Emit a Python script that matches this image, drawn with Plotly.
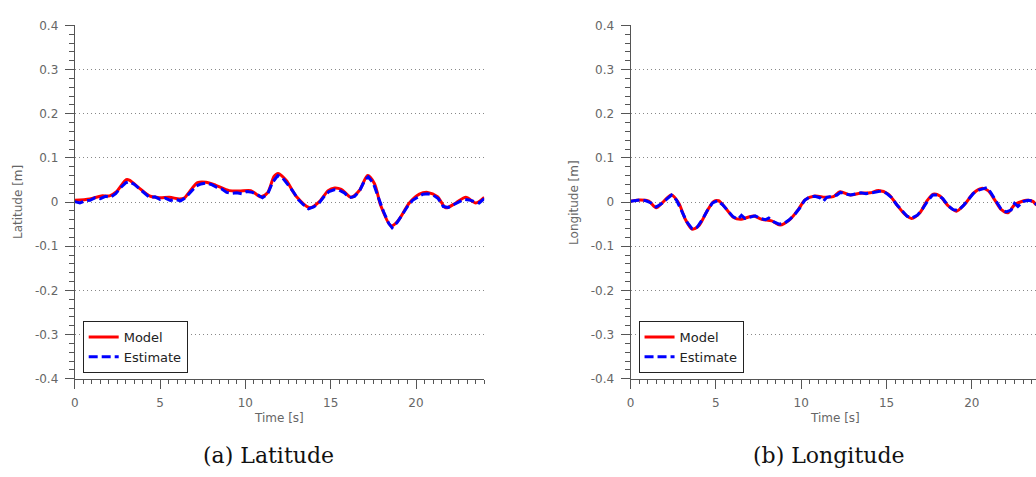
import plotly.graph_objects as go

# ---- Latitude: model vs. estimate ----
lat_model_t = [0.0, 0.88, 1.56, 2.04, 2.43, 3.02, 3.2, 3.8, 4.38, 4.96, 5.55, 6.13, 6.42, 6.72,
               7.2, 7.69, 8.27, 9.05, 9.64, 10.32, 10.9, 11.3, 11.68, 11.92, 12.4, 12.99, 13.77,
               14.35, 14.85, 15.23, 15.62, 16.2, 16.69, 17.17, 17.56, 17.95, 18.54, 18.93, 19.61,
               20.2, 20.68, 21.26, 21.75, 22.33, 22.92, 23.5, 24.0]
lat_model_v = [0.004, 0.007, 0.014, 0.014, 0.023, 0.051, 0.050, 0.031, 0.014, 0.010, 0.011, 0.007,
               0.009, 0.023, 0.044, 0.045, 0.038, 0.026, 0.025, 0.026, 0.012, 0.021, 0.058, 0.065,
               0.049, 0.0125, -0.013, 0.0015, 0.026, 0.032, 0.029, 0.011, 0.027, 0.060, 0.042,
               -0.0095, -0.054, -0.043, -0.002, 0.018, 0.022, 0.0125, -0.013, -0.002, 0.011,
               -0.002, 0.011]

lat_est_t = [0.0, 0.3, 0.6, 0.9, 1.2, 1.5, 1.8, 2.1, 2.4, 2.7, 3.0, 3.2, 3.5, 3.8, 4.1, 4.4, 4.7,
             5.0, 5.3, 5.6, 5.9, 6.2, 6.5, 6.8, 7.1, 7.4, 7.7, 8.0, 8.3, 8.6, 8.9, 9.2, 9.5, 9.8,
             10.1, 10.4, 10.7, 11.0, 11.3, 11.6, 11.9, 12.2, 12.5, 12.8, 13.1, 13.4, 13.7, 14.0,
             14.3, 14.6, 14.9, 15.2, 15.5, 15.8, 16.1, 16.4, 16.7, 17.0, 17.2, 17.5, 17.8, 18.1,
             18.4, 18.6, 18.9, 19.2, 19.5, 19.8, 20.1, 20.4, 20.7, 21.0, 21.3, 21.6, 21.9, 22.2,
             22.5, 22.8, 23.1, 23.4, 23.7, 24.0]
lat_est_v = [0.001, -0.002, 0.003, 0.004, 0.010, 0.008, 0.013, 0.011, 0.019, 0.033, 0.044, 0.046,
             0.040, 0.030, 0.019, 0.010, 0.012, 0.006, 0.009, 0.004, 0.006, 0.003, 0.010, 0.024,
             0.036, 0.041, 0.043, 0.040, 0.034, 0.030, 0.022, 0.020, 0.021, 0.019, 0.024, 0.022,
             0.017, 0.010, 0.018, 0.045, 0.060, 0.054, 0.040, 0.024, 0.006, -0.006, -0.015,
             -0.011, -0.003, 0.012, 0.024, 0.028, 0.027, 0.021, 0.010, 0.013, 0.026, 0.050, 0.057,
             0.043, 0.010, -0.022, -0.048, -0.058, -0.046, -0.028, -0.010, 0.004, 0.012, 0.018,
             0.019, 0.016, 0.008, -0.010, -0.012, -0.006, 0.000, 0.006, 0.005, 0.002, -0.002, 0.008]

# ---- Longitude: model vs. estimate ----
lon_model_t = [0.0, 0.58, 1.07, 1.5, 1.85, 2.39, 2.82, 3.21, 3.6, 3.99, 4.48, 4.87, 5.16, 5.55,
               6.04, 6.43, 7.2, 7.69, 8.27, 8.76, 9.35, 9.83, 10.22, 10.8, 11.39, 11.88, 12.28,
               12.87, 13.45, 14.04, 14.53, 15.11, 15.6, 16.08, 16.47, 16.96, 17.35, 17.74, 18.13,
               18.6, 19.1, 19.6, 20.08, 20.56, 20.95, 21.34, 21.73, 22.12, 22.51, 23.19, 23.58,
               23.78, 24.0]
lon_model_v = [0.002, 0.0045, 0.002, -0.013, -0.002, 0.016, -0.002, -0.039, -0.061, -0.054,
               -0.0205, 0.0015, 0.003, -0.013, -0.035, -0.039, -0.0315, -0.039, -0.0425, -0.052,
               -0.039, -0.017, 0.005, 0.014, 0.011, 0.0125, 0.0235, 0.016, 0.020, 0.021, 0.026,
               0.018, -0.006, -0.028, -0.037, -0.024, 0.0015, 0.018, 0.014, -0.008, -0.0205,
               -0.004, 0.020, 0.031, 0.026, 0.005, -0.017, -0.024, -0.006, 0.004, 0.0015, -0.006,
               -0.008]

lon_est_t = [0.0, 0.3, 0.6, 0.9, 1.2, 1.5, 1.8, 2.1, 2.4, 2.7, 3.0, 3.3, 3.6, 3.9, 4.2, 4.5, 4.8,
             5.1, 5.4, 5.7, 6.0, 6.3, 6.5, 6.7, 7.0, 7.3, 7.6, 7.9, 8.1, 8.4, 8.7, 9.0, 9.3, 9.6,
             9.9, 10.2, 10.5, 10.8, 11.1, 11.3, 11.5, 11.8, 12.1, 12.3, 12.6, 12.9, 13.2, 13.5,
             13.8, 14.1, 14.4, 14.7, 15.0, 15.3, 15.6, 15.9, 16.2, 16.5, 16.8, 17.1, 17.4, 17.7,
             18.0, 18.3, 18.6, 18.9, 19.2, 19.5, 19.8, 20.1, 20.4, 20.7, 20.9, 21.1, 21.4, 21.7,
             22.0, 22.3, 22.5, 22.7, 23.0, 23.3, 23.6, 23.8]
lon_est_v = [0.002, 0.003, 0.005, 0.003, -0.002, -0.011, -0.004, 0.006, 0.016, 0.004, -0.022,
             -0.045, -0.060, -0.057, -0.040, -0.019, -0.002, 0.003, -0.006, -0.020, -0.033,
             -0.039, -0.030, -0.037, -0.034, -0.031, -0.037, -0.040, -0.036, -0.045, -0.050,
             -0.048, -0.040, -0.029, -0.014, 0.004, 0.012, 0.013, 0.010, 0.002, 0.011, 0.013,
             0.016, 0.022, 0.018, 0.016, 0.018, 0.021, 0.019, 0.021, 0.024, 0.025, 0.020, 0.010,
             -0.006, -0.020, -0.032, -0.036, -0.030, -0.016, 0.002, 0.016, 0.016, 0.008, -0.008,
             -0.017, -0.019, -0.008, 0.007, 0.020, 0.027, 0.030, 0.033, 0.022, 0.003, -0.015,
             -0.022, -0.018, -0.003, -0.010, 0.001, 0.004, 0.002, -0.006]

y_tick_vals = [-0.4, -0.3, -0.2, -0.1, 0, 0.1, 0.2, 0.3, 0.4]
y_tick_text = ["-0.4", "-0.3", "-0.2", "-0.1", "0", "0.1", "0.2", "0.3", "0.4"]

panels = [
    dict(title="Latitude [m]", caption="(a) Latitude", mt=lat_model_t, mv=lat_model_v,
         et=lat_est_t, ev=lat_est_v),
    dict(title="Longitude [m]", caption="(b) Longitude", mt=lon_model_t, mv=lon_model_v,
         et=lon_est_t, ev=lon_est_v),
]

W, H = 1036, 477
PX_PER_S = 17.13
x_left = [71, 629]            # y-axis positions (px)
y_top, y_bot = 19, 383        # pixel rows for +0.4 and -0.4

TICK_FONT = dict(family="DejaVu Sans", size=12, color="#666666")
AXIS_COLOR = "#555555"

fig = go.Figure()
for i, p in enumerate(panels):
    xa = "x" if i == 0 else "x2"
    ya = "y" if i == 0 else "y2"
    leg = "legend" if i == 0 else "legend2"
    fig.add_trace(go.Scatter(x=p["mt"], y=p["mv"], xaxis=xa, yaxis=ya, mode="lines",
                             name="Model", legend=leg,
                             line=dict(color="#ff0000", width=3, shape="spline", smoothing=0.8)))
    fig.add_trace(go.Scatter(x=p["et"], y=p["ev"], xaxis=xa, yaxis=ya, mode="lines",
                             name="Estimate", legend=leg,
                             line=dict(color="#0000ff", width=3, dash="9px,4px")))

layout = dict(
    width=W, height=H, margin=dict(l=0, r=0, t=0, b=0),
    paper_bgcolor="white", plot_bgcolor="white", showlegend=True,
)

for i in range(2):
    x0 = x_left[i]
    x1 = min(x0 + 24.0 * PX_PER_S, W)
    xr = (x1 - x0) / PX_PER_S
    xkey = "xaxis" if i == 0 else "xaxis2"
    ykey = "yaxis" if i == 0 else "yaxis2"
    layout[xkey] = dict(
        domain=[x0 / W, x1 / W], range=[0, xr], anchor="y" if i == 0 else "y2",
        showgrid=False, zeroline=False, showline=True, linecolor=AXIS_COLOR, linewidth=1,
        ticks="outside", ticklen=9, tickcolor=AXIS_COLOR, tickwidth=1,
        tick0=0, dtick=5, tickfont=TICK_FONT, ticklabelstandoff=4,
        minor=dict(dtick=0.5, tick0=0, ticks="outside", ticklen=4, tickcolor=AXIS_COLOR,
                   showgrid=False),
    )
    layout[ykey] = dict(
        domain=[(H - y_bot) / H, (H - y_top) / H], range=[-0.4, 0.4],
        anchor="x" if i == 0 else "x2",
        showgrid=True, gridcolor="#888888", griddash="1px,3px", gridwidth=1,
        zeroline=False, showline=True, linecolor=AXIS_COLOR, linewidth=1,
        ticks="outside", ticklen=9, tickcolor=AXIS_COLOR, tickwidth=1,
        tickvals=y_tick_vals, ticktext=y_tick_text, tickfont=TICK_FONT, ticklabelstandoff=4,
        minor=dict(dtick=0.02, tick0=0, ticks="outside", ticklen=5, tickcolor=AXIS_COLOR,
                   showgrid=False),
    )
    lkey = "legend" if i == 0 else "legend2"
    layout[lkey] = dict(
        x=(x0 + 8) / W, y=(H - 377) / H, xanchor="left", yanchor="bottom",
        bgcolor="white", bordercolor="#222222", borderwidth=1,
        font=dict(family="DejaVu Sans", size=13, color="#222222"),
        itemwidth=30, tracegroupgap=0,
    )

fig.update_layout(**layout)

annotations = []
captions_x = [266, 828]
for i, p in enumerate(panels):
    x0 = x_left[i]
    # y-axis title
    annotations.append(dict(text=p["title"], x=(x0 - 57) / W, y=(H - 201) / H,
                            xref="paper", yref="paper", showarrow=False, textangle=-90,
                            xanchor="center", yanchor="middle",
                            font=dict(family="DejaVu Sans", size=12, color="#666666")))
    # x-axis title
    annotations.append(dict(text="Time [s]", x=(x0 + 24.0 * PX_PER_S / 2) / W, y=(H - 423) / H,
                            xref="paper", yref="paper", showarrow=False,
                            xanchor="center", yanchor="middle",
                            font=dict(family="DejaVu Sans", size=12, color="#666666")))
    # sub-figure caption
    annotations.append(dict(text=p["caption"], x=captions_x[i] / W, y=(H - 462) / H,
                            xref="paper", yref="paper", showarrow=False,
                            xanchor="center", yanchor="middle",
                            font=dict(family="DejaVu Serif", size=22, color="#111111")))
fig.update_layout(annotations=annotations)

# The figure fills the page edge to edge
fig.write_html("out.html",
               post_script="document.body.style.margin='0';"
                           "document.body.style.overflow='hidden';")
